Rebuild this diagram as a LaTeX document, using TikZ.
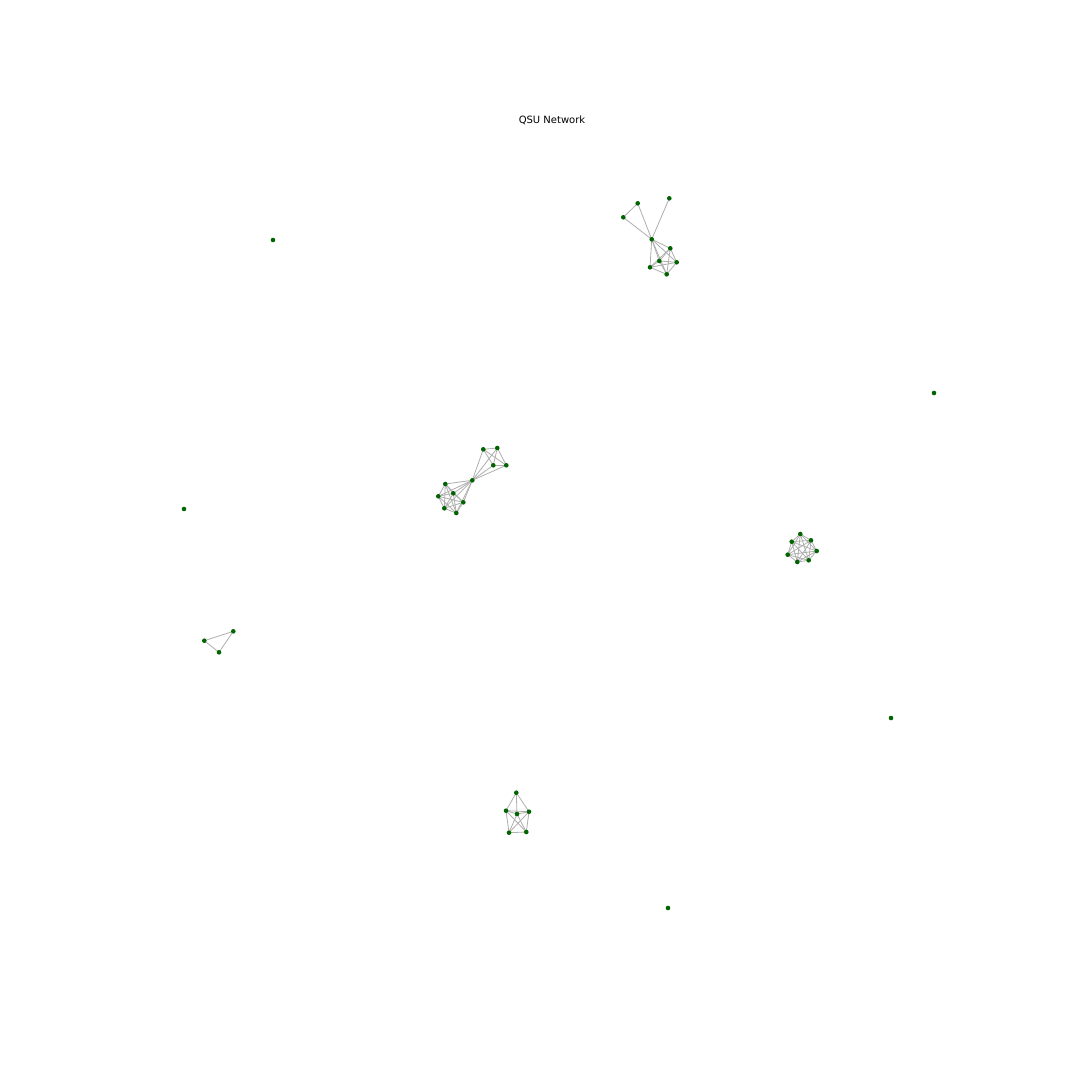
\documentclass[tikz,border=0pt]{standalone}
\usepackage{fontspec}
\setmainfont{DejaVu Sans}
\definecolor{nodegreen}{RGB}{0,100,0}
\definecolor{edgegray}{RGB}{175,175,175}
\tikzset{
  vtx/.style={circle,fill=nodegreen,inner sep=0pt,minimum size=4.6pt},
  edg/.style={draw=edgegray,line width=0.8pt}
}
\begin{document}
\begin{tikzpicture}[x=1pt,y=-1pt]
\useasboundingbox[fill=white] (0,0) rectangle (1080,1080);
\node[font=\fontsize{10}{12}\selectfont] (title) at (552,120) {QSU Network};
% top cluster
\foreach \n/\x/\y in {ta/637.7/203.3, tb/669.3/198.3, tc/623.3/217.3, th/651.7/239.3, td/670.3/248.3, te/659.3/261, tf/676.7/262.3, tg/650/267.3, ti/666.7/274.3}
  \coordinate (\n) at (\x,\y);
% center cluster
\foreach \n/\x/\y in {p1/483.3/449.3, p2/497.3/448, p3/493.3/465.3, p4/506.3/465.3, ch/472.3/480.3, q1/445.3/484, q2/453.3/493.3, q3/438.3/496.3, q4/463.3/502.3, q5/444.3/508.3, q6/456.3/513}
  \coordinate (\n) at (\x,\y);
% right cluster
\foreach \n/\x/\y in {r1/800.3/534, r2/811/540.3, r3/791.7/541.7, r4/816.7/551, r5/787.7/554.7, r6/808.7/560.3, r7/797.3/562}
  \coordinate (\n) at (\x,\y);
% triangle
\foreach \n/\x/\y in {s1/204.3/640.7, s2/233.3/631.3, s3/219/652.3}
  \coordinate (\n) at (\x,\y);
% bottom cluster
\foreach \n/\x/\y in {bt/516.3/792.7, bl/506/810.7, bm/517/814, br/529/811.7, bbl/509/832.7, bbr/526.3/832}
  \coordinate (\n) at (\x,\y);
% edges
\foreach \a/\b in {ta/tc, ta/th, tc/th, tb/th}
  \draw[edg] (\a) -- (\b);
\foreach \a/\b in {th/td, th/te, th/tf, th/tg, th/ti, td/te, td/tf, td/tg, td/ti, te/tf, te/tg, te/ti, tf/tg, tf/ti, tg/ti}
  \draw[edg] (\a) -- (\b);
\foreach \a/\b in {ch/p1, ch/p2, ch/p3, ch/p4, p1/p2, p1/p3, p1/p4, p2/p3, p2/p4, p3/p4}
  \draw[edg] (\a) -- (\b);
\foreach \a/\b in {ch/q1, ch/q2, ch/q3, ch/q4, ch/q5, ch/q6, q1/q2, q1/q3, q1/q4, q1/q5, q1/q6, q2/q3, q2/q4, q2/q5, q2/q6, q3/q4, q3/q5, q3/q6, q4/q5, q4/q6, q5/q6}
  \draw[edg] (\a) -- (\b);
\foreach \a/\b in {r1/r2, r1/r3, r1/r4, r1/r5, r1/r6, r1/r7, r2/r3, r2/r4, r2/r5, r2/r6, r2/r7, r3/r4, r3/r5, r3/r6, r3/r7, r4/r5, r4/r6, r4/r7, r5/r6, r5/r7, r6/r7}
  \draw[edg] (\a) -- (\b);
\foreach \a/\b in {s1/s2, s2/s3, s1/s3}
  \draw[edg] (\a) -- (\b);
\foreach \a/\b in {bt/bl, bt/br, bt/bm, bl/br, bl/bm, bm/br, bl/bbl, br/bbr, bbl/bbr, bl/bbr, br/bbl, bm/bbl, bm/bbr}
  \draw[edg] (\a) -- (\b);
% nodes
\foreach \n in {ta,tb,tc,th,td,te,tf,tg,ti,p1,p2,p3,p4,ch,q1,q2,q3,q4,q5,q6,r1,r2,r3,r4,r5,r6,r7,s1,s2,s3,bt,bl,bm,br,bbl,bbr}
  \node[vtx] (v\n) at (\n) {};
% isolated nodes
\node[vtx] (i1) at (273,240) {};
\node[vtx] (i2) at (934,393) {};
\node[vtx] (i3) at (184,509) {};
\node[vtx] (i4) at (891,718) {};
\node[vtx] (i5) at (668,908) {};
\end{tikzpicture}
\end{document}
